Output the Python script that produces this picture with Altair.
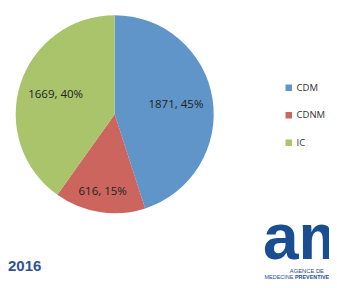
import altair as alt
import pandas as pd

# ---- data ----
categories = ["CDM", "CDNM", "IC"]
counts = [1871, 616, 1669]
percents = ["45%", "15%", "40%"]
colors = ["#5F95C9", "#CC655E", "#A9C46B"]
year_text = ["2016"]
logo_main = ["am"]
logo_line1 = ["AGENCE DE"]
logo_line2a = ["MEDECINE"]
logo_line2b = ["PREVENTIVE"]

df = pd.DataFrame({"cat": categories, "n": counts, "pct": percents,
                   "ord": list(range(len(categories)))})
df["label"] = df["n"].astype(str) + ", " + df["pct"]

CX, CY, R = 106.7, 106.2, 99

color = alt.Color(
    "cat:N",
    scale=alt.Scale(domain=categories, range=colors),
    sort=categories,
    legend=alt.Legend(
        title=None, orient="none", legendX=276, legendY=75,
        symbolType="square", symbolSize=42, symbolStrokeWidth=0,
        labelFontSize=9.5, labelFont="Open Sans", labelColor="#333333",
        rowPadding=16.5, padding=0, labelOffset=3,
    ),
)

theta = alt.Theta("n:Q", stack=True)
order = alt.Order("ord:Q", sort="ascending")

pie = alt.Chart(df).mark_arc(radius=R).encode(
    theta=theta, color=color, order=order,
    x=alt.value(CX), y=alt.value(CY),
)

lbl_a = alt.Chart(df).mark_text(
    radius=62, font="Open Sans", fontSize=11.5, color="#222222",
    align="center", baseline="middle",
).encode(
    theta=theta, order=order, x=alt.value(CX), y=alt.value(CY),
    text=alt.condition(alt.datum.cat != "CDNM", "label:N", alt.value("")),
)

lbl_b = alt.Chart(df).mark_text(
    radius=79, font="Open Sans", fontSize=11.5, color="#222222",
    align="center", baseline="middle",
).encode(
    theta=theta, order=order, x=alt.value(CX), y=alt.value(CY),
    text=alt.condition(alt.datum.cat == "CDNM", "label:N", alt.value("")),
)

year = alt.Chart(pd.DataFrame({"t": year_text})).mark_text(
    font="Liberation Sans", fontWeight="bold", fontSize=15, color="#2E5395",
    align="left", baseline="middle",
).encode(text="t:N", x=alt.value(0), y=alt.value(257.5))

logo = alt.Chart(pd.DataFrame({"t": logo_main})).mark_text(
    font="Liberation Sans", fontWeight="bold", fontSize=64, color="#1A4E91",
    align="left", baseline="alphabetic",
).encode(text="t:N", x=alt.value(255), y=alt.value(251))

l1 = alt.Chart(pd.DataFrame({"t": logo_line1})).mark_text(
    font="Liberation Sans", fontSize=5.8, color="#1A4E91",
    align="right", baseline="middle",
).encode(text="t:N", x=alt.value(316), y=alt.value(263))

l2a = alt.Chart(pd.DataFrame({"t": logo_line2a})).mark_text(
    font="Liberation Sans", fontSize=5.5, color="#1A4E91",
    align="right", baseline="middle",
).encode(text="t:N", x=alt.value(285.5), y=alt.value(269))

l2b = alt.Chart(pd.DataFrame({"t": logo_line2b})).mark_text(
    font="Liberation Sans", fontSize=5.4, fontWeight="bold",
    color="#1A4E91", align="left", baseline="middle",
).encode(text="t:N", x=alt.value(287), y=alt.value(269))

chart = alt.layer(pie, lbl_a, lbl_b, year, logo, l1, l2a, l2b).properties(
    width=321, height=272,
    autosize=alt.AutoSizeParams(type="none"),
    padding=0,
).configure_view(stroke=None)

chart.save("out.html", embed_options={"renderer": "svg", "actions": False})
